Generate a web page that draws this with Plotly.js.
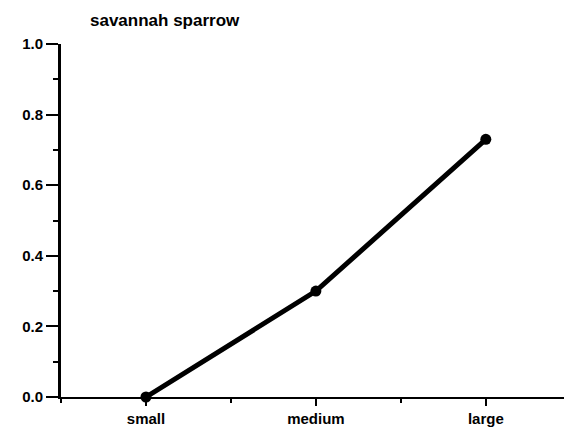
<!DOCTYPE html>
<html><head><meta charset="utf-8">
<script src="https://cdn.plot.ly/plotly-3.0.1.min.js"></script>
<style>html,body{margin:0;padding:0;background:#fff}</style>
</head><body><div id="chart" style="width:564px;height:433px"></div>
<script>
const categories = ['small', 'medium', 'large'];
const proportion = [0.0, 0.30, 0.73];
const yTickVals = [0, 0.2, 0.4, 0.6, 0.8, 1.0];
const yTickText = ['0.0', '0.2', '0.4', '0.6', '0.8', '1.0'];
const titleText = 'savannah sparrow';

const xIdx = categories.map((c, i) => i);
const fontFam = '"Liberation Sans Narrow", "Arial Narrow", "Liberation Sans", Arial, sans-serif';

Plotly.newPlot('chart', [{
  x: xIdx, y: proportion, type: 'scatter', mode: 'lines+markers',
  line: {color: '#000', width: 5},
  marker: {color: '#000', size: 11},
  cliponaxis: false, hoverinfo: 'none'
}], {
  width: 564, height: 433,
  margin: {l: 61, r: 0, t: 44, b: 36},
  paper_bgcolor: '#fff', plot_bgcolor: '#fff',
  showlegend: false,
  title: {text: '<b>' + titleText + '</b>', x: 90/564, xanchor: 'left', xref: 'container',
          y: 1 - 20/433, yanchor: 'middle', yref: 'container',
          font: {family: 'Liberation Sans, Arial, sans-serif', size: 17, color: '#000'}},
  xaxis: {
    range: [-0.5, 2.46], tickmode: 'array', tickvals: xIdx, ticktext: categories,
    showgrid: false, zeroline: false, showline: true, linecolor: '#000', linewidth: 2,
    ticks: 'outside', ticklen: 7, tickwidth: 2, tickcolor: '#000',
    minor: {tickmode: 'linear', tick0: 0.5, dtick: 1, ticks: 'outside', ticklen: 4, tickwidth: 2, tickcolor: '#000', showgrid: false},
    tickfont: {family: fontFam, size: 15, color: '#000', weight: 'bold'}
  },
  yaxis: {
    range: [0, 1.0], tickmode: 'array', tickvals: yTickVals, ticktext: yTickText,
    showgrid: false, zeroline: false, showline: true, linecolor: '#000', linewidth: 3,
    ticks: 'outside', ticklen: 12, tickwidth: 2, tickcolor: '#000',
    minor: {tickmode: 'linear', tick0: 0.1, dtick: 0.2, ticks: 'outside', ticklen: 5, tickwidth: 2, tickcolor: '#000', showgrid: false},
    tickfont: {family: fontFam, size: 15, color: '#000', weight: 'bold'}
  }
}, {staticPlot: true});
</script></body></html>
